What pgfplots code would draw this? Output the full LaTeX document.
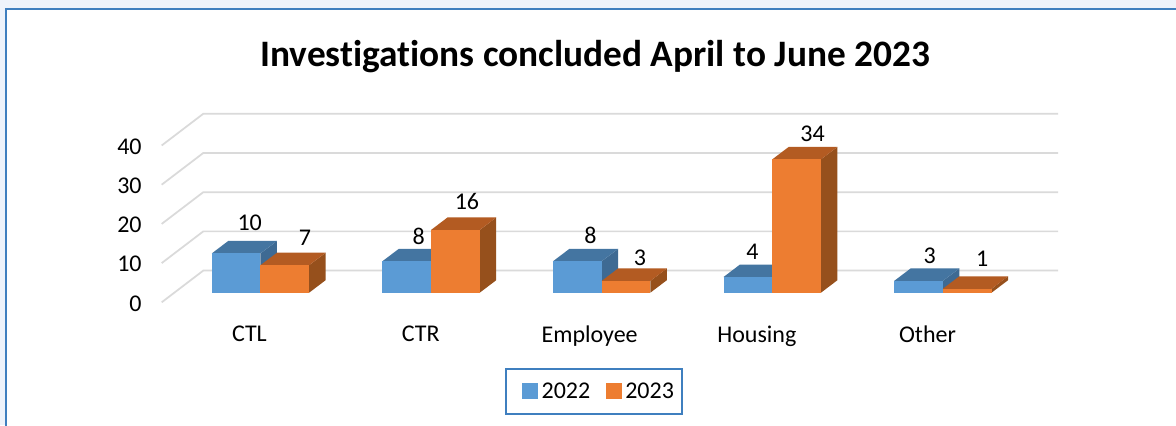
\documentclass[border=0pt]{standalone}
\usepackage{fontspec}
\setmainfont[Ligatures=NoCommon]{Carlito}
\usepackage{pgfplots}
\pgfplotsset{compat=1.18}

\definecolor{blueF}{HTML}{5B9BD5}
\definecolor{blueT}{HTML}{4475A1}
\definecolor{blueS}{HTML}{3E6A93}
\definecolor{orangeF}{HTML}{ED7D31}
\definecolor{orangeT}{HTML}{B35B22}
\definecolor{orangeS}{HTML}{96501C}
\definecolor{gridc}{HTML}{DADADA}
\definecolor{framec}{HTML}{3F7FBF}
\definecolor{pagec}{HTML}{EEF3FB}

% bars stand a little above the front edge of the floor
\def\barbase{2.45}
\def\barw{0.2855}
\def\depx{0.0967}
\def\depy{3.19}

% #1 left x, #2 value, #3 colour stem, #4 label dx, #5 label dy
\newcommand{\cube}[5]{%
  \pgfmathsetmacro{\xa}{#1}%
  \pgfmathsetmacro{\xb}{#1+\barw}%
  \pgfmathsetmacro{\xc}{#1+\depx}%
  \pgfmathsetmacro{\xd}{#1+\barw+\depx}%
  \pgfmathsetmacro{\ya}{\barbase}%
  \pgfmathsetmacro{\yb}{\barbase+#2}%
  \pgfmathsetmacro{\yc}{\barbase+\depy}%
  \pgfmathsetmacro{\yd}{\barbase+#2+\depy}%
  \addplot[forget plot,draw=none,fill=#3S] coordinates {(\xb,\ya) (\xd,\yc) (\xd,\yd) (\xb,\yb)} -- cycle;
  \addplot[forget plot,draw=none,fill=#3T] coordinates {(\xa,\yb) (\xc,\yd) (\xd,\yd) (\xb,\yb)} -- cycle;
  \addplot[forget plot,draw=none,fill=#3F] coordinates {(\xa,\ya) (\xb,\ya) (\xb,\yb) (\xa,\yb)} -- cycle;
  \node[font=\fontsize{18}{20}\selectfont,inner sep=0pt] at (axis cs:{#1+0.5*\barw+#4},{\barbase+#2+\depy+#5}) {#2};
}

\begin{document}
\begin{tikzpicture}
\fill[pagec] (-121.275pt,-92.025pt) rectangle (760.725pt,226.725pt);
\useasboundingbox (-121.275pt,-92.025pt) rectangle (760.725pt,226.725pt);
\fill[white,draw=framec,line width=1.6pt] (-116.9pt,-120pt) rectangle (800pt,220.2pt);
\node[font=\bfseries\fontsize{28}{32}\selectfont,anchor=center] at (325pt,184pt) {Investigations concluded April to June 2023};
\begin{axis}[
    at={(0,0)}, anchor=south west,
    scale only axis, width=672.225pt, height=141.225pt,
    xmin=-0.5786, xmax=4.675, ymin=0, ymax=48.03,
    axis line style={draw=none}, tick style={draw=none},
    clip=false,
    ytick={0,10,20,30,40},
    yticklabel style={font=\fontsize{18}{20}\selectfont, xshift=-11.5pt, yshift=-0.8pt},
    /pgf/number format/assume math mode=true,
    xtick={-0.064,0.94,1.93,2.91,3.91},
    xticklabels={CTL,CTR,Employee,Housing,Other},
    xticklabel style={font=\fontsize{18}{20}\selectfont, yshift=-14pt},
    legend style={at={(axis cs:1.432,-16.7)}, anchor=north west, draw=framec, line width=1.4pt,
        legend columns=2, font=\fontsize{18}{20}\selectfont, inner xsep=4pt, inner ysep=8.5pt,
        /tikz/every even column/.append style={column sep=9.5pt}},
]
\pgfplotsinvokeforeach{0,10,20,30,40}{
  \addplot[forget plot,gridc,line width=1.3pt] coordinates {(-0.5786,#1) (-0.3348,#1+8.09) (4.675,#1+8.09)};
}
\cube{-0.2855}{10}{blue}{0.08}{4.75}
\cube{0}{7}{orange}{0.118}{3.75}
\cube{0.7145}{8}{blue}{0.07}{3.25}
\cube{1}{16}{orange}{0.068}{4}
\cube{1.7145}{8}{blue}{0.077}{3.5}
\cube{2}{3}{orange}{0.082}{2.75}
\cube{2.7145}{4}{blue}{0.027}{3.25}
\cube{3}{34}{orange}{0.094}{3.25}
\cube{3.7145}{3}{blue}{0.065}{3.25}
\cube{4}{1}{orange}{0.088}{4.5}
\addlegendimage{legend image code/.code={\path[draw=none] (-9pt,0pt) -- (12pt,0pt); \fill[blueF] (0pt,-5pt) rectangle (10.5pt,5.5pt);}}
\addlegendentry{2022}
\addlegendimage{legend image code/.code={\path[draw=none] (0pt,0pt) -- (12pt,0pt); \fill[orangeF] (0pt,-5pt) rectangle (10.5pt,5.5pt);}}
\addlegendentry{2023}
\end{axis}
\end{tikzpicture}
\end{document}
